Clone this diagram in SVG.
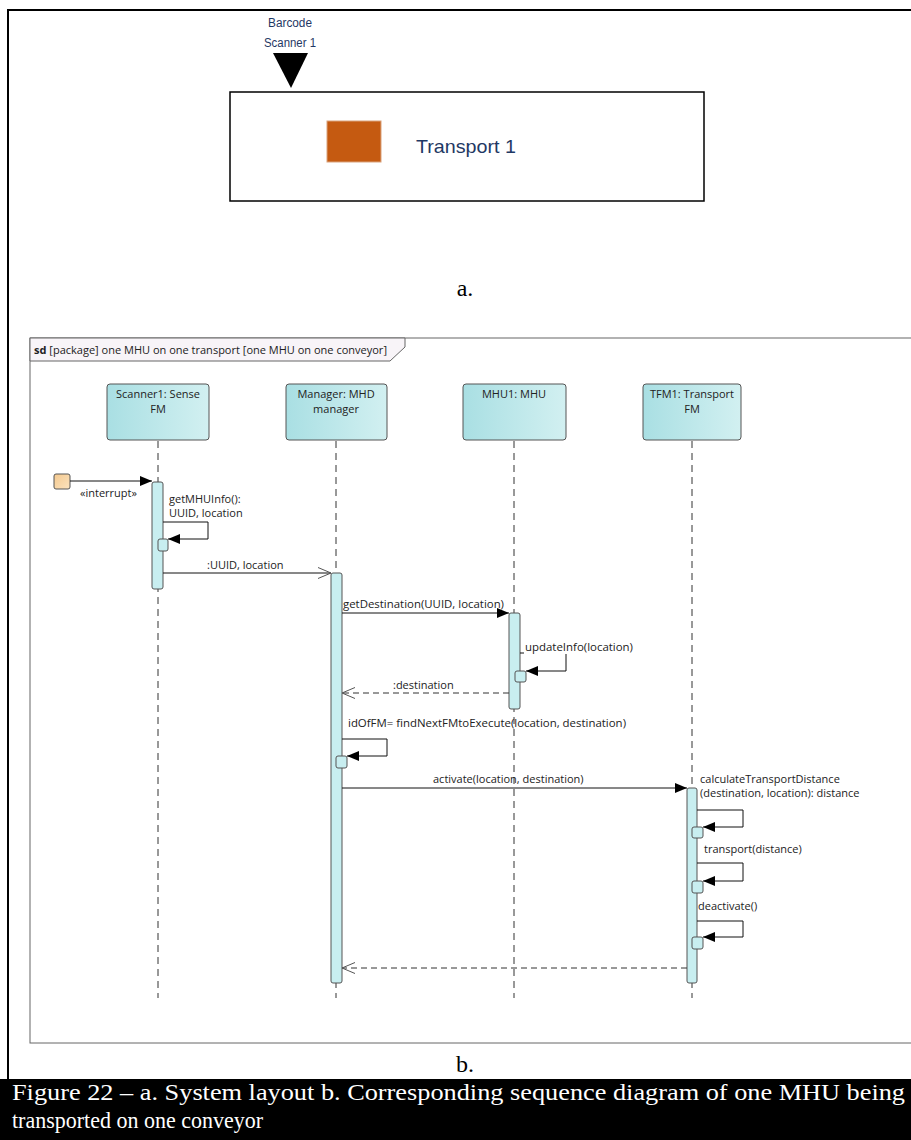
<svg xmlns="http://www.w3.org/2000/svg" width="911" height="1140" viewBox="0 0 911 1140">
<defs>
<linearGradient id="headGrad" x1="0" y1="0" x2="1" y2="0">
<stop offset="0" stop-color="#A9DFE3"/>
<stop offset="1" stop-color="#D2F0F1"/>
</linearGradient>
<linearGradient id="foundGrad" x1="0" y1="0" x2="1" y2="1">
<stop offset="0" stop-color="#F4C98F"/>
<stop offset="1" stop-color="#FBE3BF"/>
</linearGradient>
<marker id="filled" viewBox="0 0 12 10" refX="12" refY="5" markerWidth="12" markerHeight="10" markerUnits="userSpaceOnUse" orient="auto">
<path d="M0,0 L12,5 L0,10 Z" fill="#000"/>
</marker>
<marker id="open" viewBox="0 0 14 12" refX="13" refY="6" markerWidth="14" markerHeight="12" markerUnits="userSpaceOnUse" orient="auto">
<path d="M0,0.5 L13,6 L0,11.5" fill="none" stroke="#555" stroke-width="1"/>
</marker>
</defs>
<style>
.lbl{font-family:"Open Sans","Noto Sans",sans-serif;font-size:11px;fill:#222}
.head{fill:url(#headGrad);stroke:#555;stroke-width:1}
.bar{fill:#C8EEF0;stroke:#555;stroke-width:1}
.life{stroke:#333;stroke-width:1;stroke-dasharray:7,5;fill:none}
.msg{stroke:#111;stroke-width:1;fill:none}
.ret{stroke:#333;stroke-width:1;stroke-dasharray:6,4;fill:none}
.times{font-family:"Liberation Serif","Times New Roman",serif}
.navy{font-family:"Liberation Sans",Arial,sans-serif;fill:#1F3864}
</style>
<rect x="0" y="0" width="911" height="1140" fill="#fff"/>
<!-- outer border -->
<path d="M8,1080 L8,10 L911,10" fill="none" stroke="#000" stroke-width="2"/>

<!-- part a -->
<g id="scanner">
<text class="navy" x="290" y="27" font-size="12" text-anchor="middle" textLength="44" lengthAdjust="spacingAndGlyphs">Barcode</text>
<text class="navy" x="290" y="47" font-size="12" text-anchor="middle" textLength="52" lengthAdjust="spacingAndGlyphs">Scanner 1</text>
<polygon points="273,53 308,53 291,88" fill="#000"/>
</g>
<g id="transport">
<rect x="230" y="92" width="474" height="109" fill="#fff" stroke="#000" stroke-width="1.5"/>
<rect x="327" y="121" width="54" height="41" fill="#C55A11" stroke="#d9a27c" stroke-width="1"/>
<text class="navy" x="416" y="153" font-size="19" textLength="100" lengthAdjust="spacingAndGlyphs">Transport 1</text>
</g>
<text class="times" x="465" y="296" font-size="24" text-anchor="middle">a.</text>

<!-- part b: frame -->
<g id="frame">
<rect x="30" y="338" width="900" height="705" fill="#fff" stroke="#666" stroke-width="1"/>
<polygon points="30,338 405,338 405,347 390,361 30,361" fill="#F8F4F8" stroke="#666" stroke-width="1"/>
<text class="lbl" x="34" y="354" textLength="353" lengthAdjust="spacingAndGlyphs"><tspan font-weight="bold">sd</tspan> [package] one MHU on one transport [one MHU on one conveyor]</text>
</g>

<!-- lifelines -->
<g id="scanner1">
<line class="life" x1="158" y1="441" x2="158" y2="998"/>
<rect class="head" x="107" y="384" width="102" height="56" rx="3"/>
<text class="lbl" x="158" y="398" text-anchor="middle">Scanner1: Sense</text>
<text class="lbl" x="158" y="413" text-anchor="middle">FM</text>
</g>
<g id="manager">
<line class="life" x1="336" y1="441" x2="336" y2="998"/>
<rect class="head" x="286" y="384" width="101" height="56" rx="3"/>
<text class="lbl" x="336" y="398" text-anchor="middle">Manager: MHD</text>
<text class="lbl" x="336" y="413" text-anchor="middle">manager</text>
</g>
<g id="mhu1">
<line class="life" x1="514" y1="441" x2="514" y2="998"/>
<rect class="head" x="463" y="384" width="103" height="56" rx="3"/>
<text class="lbl" x="514" y="398" text-anchor="middle">MHU1: MHU</text>
</g>
<g id="tfm1">
<line class="life" x1="692" y1="441" x2="692" y2="998"/>
<rect class="head" x="643" y="384" width="98" height="56" rx="3"/>
<text class="lbl" x="692" y="398" text-anchor="middle">TFM1: Transport</text>
<text class="lbl" x="692" y="413" text-anchor="middle">FM</text>
</g>

<!-- found message source -->
<g id="found">
<rect x="54" y="474" width="16" height="15" rx="2" fill="url(#foundGrad)" stroke="#555" stroke-width="1"/>
</g>

<!-- activations -->
<g id="activations">
<rect class="bar" x="152" y="482" width="11" height="107" rx="2"/>
<rect class="bar" x="331" y="573" width="11" height="410" rx="2"/>
<rect class="bar" x="509" y="613" width="11" height="96" rx="2"/>
<rect class="bar" x="687" y="788" width="10" height="195" rx="2"/>
<rect class="bar" x="158" y="539" width="10" height="12" rx="2"/>
<rect class="bar" x="515" y="671" width="11" height="11" rx="2"/>
<rect class="bar" x="336" y="756" width="11" height="12" rx="2"/>
<rect class="bar" x="692" y="827" width="11" height="11" rx="2"/>
<rect class="bar" x="692" y="881" width="11" height="12" rx="2"/>
<rect class="bar" x="692" y="937" width="11" height="12" rx="2"/>
</g>

<!-- connectors -->
<g id="connectors">
<line class="msg" x1="70" y1="481" x2="152" y2="481" marker-end="url(#filled)"/>
<polyline class="msg" points="163,522 208,522 208,539 168,539" marker-end="url(#filled)"/>
<line class="msg" x1="163" y1="573" x2="331" y2="573" marker-end="url(#open)"/>
<line class="msg" x1="342" y1="613" x2="509" y2="613" marker-end="url(#filled)"/>
<line class="msg" x1="520" y1="653" x2="524" y2="653"/>
<polyline class="msg" points="566,654 566,671 526,671" marker-end="url(#filled)"/>
<line class="ret" x1="509" y1="693" x2="342" y2="693" marker-end="url(#open)"/>
<polyline class="msg" points="342,739 387,739 387,756 347,756" marker-end="url(#filled)"/>
<line class="msg" x1="342" y1="788" x2="687" y2="788" marker-end="url(#filled)"/>
<polyline class="msg" points="697,810 743,810 743,827 703,827" marker-end="url(#filled)"/>
<polyline class="msg" points="697,863 743,863 743,881 703,881" marker-end="url(#filled)"/>
<polyline class="msg" points="697,921 743,921 743,937 703,937" marker-end="url(#filled)"/>
<line class="ret" x1="687" y1="968" x2="342" y2="968" marker-end="url(#open)"/>
</g>

<!-- labels -->
<g id="labels">
<text class="lbl" x="80" y="497">«interrupt»</text>
<text class="lbl" x="169" y="503">getMHUInfo():</text>
<text class="lbl" x="169" y="517">UUID, location</text>
<text class="lbl" x="207" y="569">:UUID, location</text>
<text class="lbl" x="343" y="608" textLength="161" lengthAdjust="spacingAndGlyphs">getDestination(UUID, location)</text>
<text class="lbl" x="525" y="651" textLength="108" lengthAdjust="spacingAndGlyphs">updateInfo(location)</text>
<text class="lbl" x="393" y="689">:destination</text>
<text class="lbl" x="348" y="727" textLength="278" lengthAdjust="spacingAndGlyphs">idOfFM= findNextFMtoExecute(location, destination)</text>
<text class="lbl" x="433" y="783">activate(location, destination)</text>
<text class="lbl" x="700" y="783">calculateTransportDistance</text>
<text class="lbl" x="700" y="797">(destination, location): distance</text>
<text class="lbl" x="704" y="853">transport(distance)</text>
<text class="lbl" x="698" y="910">deactivate()</text>
</g>

<text class="times" x="465" y="1072" font-size="24" text-anchor="middle">b.</text>

<!-- caption -->
<g id="caption">
<rect x="0" y="1079" width="911" height="61" fill="#000"/>
<text class="times" x="12" y="1100" font-size="24" fill="#fff" textLength="893" lengthAdjust="spacingAndGlyphs">Figure 22 – a. System layout b. Corresponding sequence diagram of one MHU being</text>
<text class="times" x="12" y="1128" font-size="24" fill="#fff" textLength="251" lengthAdjust="spacingAndGlyphs">transported on one conveyor</text>
</g>
</svg>
